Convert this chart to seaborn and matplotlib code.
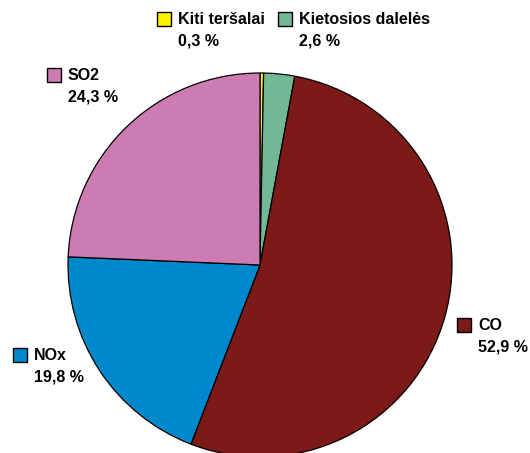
import matplotlib
matplotlib.use("Agg")
import matplotlib.pyplot as plt
import seaborn as sns
from matplotlib.patches import Rectangle

# data
categories = ["Kiti teršalai", "Kietosios dalelės", "CO", "NOx", "SO2"]
shares = [0.3, 2.6, 52.9, 19.8, 24.3]
share_labels = ["0,3 %", "2,6 %", "52,9 %", "19,8 %", "24,3 %"]
colors = ["#FFF200", "#72B896", "#7B1A17", "#0088CC", "#CC7BB3"]

# label anchor (square top-left in pixels)
label_pos = [(157, 12), (278, 12), (457, 318), (13, 348), (47, 68)]

sns.set_theme(style="white")
plt.rcParams["font.family"] = ["Liberation Sans", "DejaVu Sans"]

W, H = 530, 453
fig = plt.figure(figsize=(W / 100, H / 100), dpi=100)

cx, cy, r = 260, 265, 192
ax = fig.add_axes([(cx - r) / W, (H - cy - r) / H, 2 * r / W, 2 * r / H])
ax.pie(shares, colors=colors, startangle=90, counterclock=False,
       wedgeprops=dict(edgecolor="black", linewidth=0.9))
ax.set_xlim(-1, 1)
ax.set_ylim(-1, 1)
ax.set_aspect("equal")
ax.axis("off")

# overlay for labels in pixel coords
ov = fig.add_axes([0, 0, 1, 1])
ov.set_xlim(0, W)
ov.set_ylim(H, 0)
ov.axis("off")
ov.patch.set_alpha(0)

for name, lab, col, (x, y) in zip(categories, share_labels, colors, label_pos):
    ov.add_patch(Rectangle((x, y), 14, 14, facecolor=col, edgecolor="black", linewidth=1.0))
    ov.text(x + 21, y + 7.5, name, fontsize=11.5, fontweight="bold", color="black",
            va="center", ha="left")
    ov.text(x + 21, y + 29.5, lab, fontsize=11.5, fontweight="bold", color="black",
            va="center", ha="left")

fig.savefig("out.png", dpi=100)
